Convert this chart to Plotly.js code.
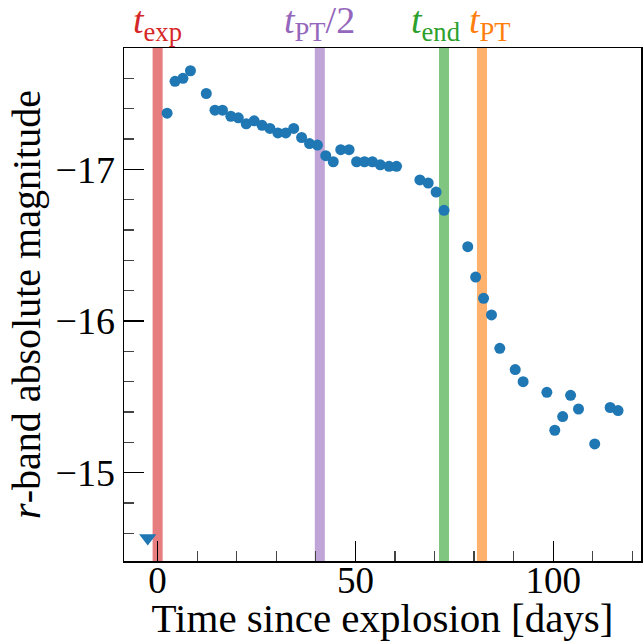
<!DOCTYPE html>
<html>
<head>
<meta charset="utf-8">
<script src="https://cdn.plot.ly/plotly-3.0.1.min.js"></script>
<style>html,body{margin:0;padding:0;background:#fff;}#chart{width:644px;height:641px;}</style>
</head>
<body>
<div id="chart"></div>
<script>
// Detections: days since explosion, r-band absolute magnitude
const days = [2.4, 4.4, 6.4, 8.3, 12.3, 14.5, 16.4, 18.5, 20.4, 22.4, 24.4, 26.4, 28.4, 30.4, 32.4, 34.4,
  36.4, 38.4, 40.4, 42.5, 44.4, 46.3, 48.4, 50.3, 52.3, 54.3, 56.3, 58.5, 60.4, 66.3, 68.4, 70.4, 72.4,
  78.4, 80.4, 82.4, 84.4, 86.5, 90.4, 92.4, 98.4, 100.4, 102.4, 104.4, 106.4, 110.5, 114.4, 116.4];
const mags = [-17.37, -17.58, -17.60, -17.65, -17.50, -17.39, -17.39, -17.35, -17.34, -17.30, -17.32, -17.29, -17.27, -17.24, -17.24, -17.27,
  -17.21, -17.17, -17.16, -17.09, -17.05, -17.13, -17.13, -17.05, -17.05, -17.05, -17.03, -17.02, -17.02, -16.93, -16.91, -16.85, -16.73,
  -16.49, -16.29, -16.15, -16.04, -15.82, -15.68, -15.60, -15.53, -15.28, -15.37, -15.51, -15.42, -15.19, -15.43, -15.41];
// Upper limit (non-detection)
const limDays = [-2.5];
const limMags = [-14.57];
// Epoch markers
const epochX = [0, 41, 72.4, 82];
const epochLabels = ['<i>t</i><sub>exp</sub>', '<i>t</i><sub>PT</sub>/2', '<i>t</i><sub>end</sub>', '<i>t</i><sub>PT</sub>'];
const epochColors = ['#d62728', '#9467bd', '#2ca02c', '#ff7f0e'];
const labelShift = [0, 0, -9, 8];

const FONT = '"Liberation Serif", "Times New Roman", serif';
const bandHalf = 1.27;

const shapes = epochX.map((x, i) => ({
  type: 'rect', xref: 'x', yref: 'paper', x0: x - bandHalf, x1: x + bandHalf, y0: 0, y1: 1,
  fillcolor: epochColors[i], opacity: 0.6, line: {width: 0}, layer: 'below'
}));
const annotations = epochX.map((x, i) => ({
  x: x, xref: 'x', y: 1, yref: 'paper', yanchor: 'bottom', xanchor: 'center', xshift: labelShift[i],
  yshift: -1, text: epochLabels[i], showarrow: false,
  font: {family: FONT, size: 38, color: epochColors[i]}
}));

const traces = [
  {x: days, y: mags, type: 'scatter', mode: 'markers',
   marker: {color: '#1f77b4', size: 11, symbol: 'circle'}, showlegend: false},
  {x: limDays, y: limMags, type: 'scatter', mode: 'markers',
   marker: {color: '#1f77b4', size: 15, symbol: 'triangle-down'}, showlegend: false}
];

const layout = {
  width: 644, height: 641,
  margin: {l: 124, r: 3, t: 48, b: 80},
  paper_bgcolor: '#fff', plot_bgcolor: '#fff',
  font: {family: FONT, color: '#000'},
  shapes: shapes,
  annotations: annotations,
  xaxis: {
    range: [-8.5, 122.2], showgrid: false, zeroline: false,
    showline: true, linecolor: '#000', linewidth: 1.5, mirror: true,
    ticks: 'inside', ticklen: 20, tickwidth: 1.2, tickcolor: '#000',
    tickmode: 'linear', tick0: 0, dtick: 50,
    ticklabelstandoff: -14,
    minor: {ticks: 'inside', ticklen: 10, tickwidth: 1.2, tickcolor: '#444', dtick: 10, tick0: 0, showgrid: false},
    tickfont: {family: FONT, size: 37, color: '#000'},
    title: {text: 'Time since explosion [days]', font: {family: FONT, size: 41, color: '#000'}, standoff: 12}
  },
  yaxis: {
    range: [-14.418, -17.80], showgrid: false, zeroline: false,
    showline: true, linecolor: '#000', linewidth: 1.5, mirror: true,
    ticks: 'inside', ticklen: 20, tickwidth: 1.2, tickcolor: '#000',
    tickmode: 'linear', tick0: -17, dtick: 1,
    minor: {ticks: 'inside', ticklen: 10, tickwidth: 1.2, tickcolor: '#444', dtick: 0.2, tick0: -17, showgrid: false},
    tickfont: {family: FONT, size: 38, color: '#000'},
    title: {text: '<i>r</i>-band absolute magnitude', font: {family: FONT, size: 40, color: '#000'}, standoff: 2}
  }
};

Plotly.newPlot('chart', traces, layout, {displayModeBar: false, staticPlot: true});
</script>
</body>
</html>
